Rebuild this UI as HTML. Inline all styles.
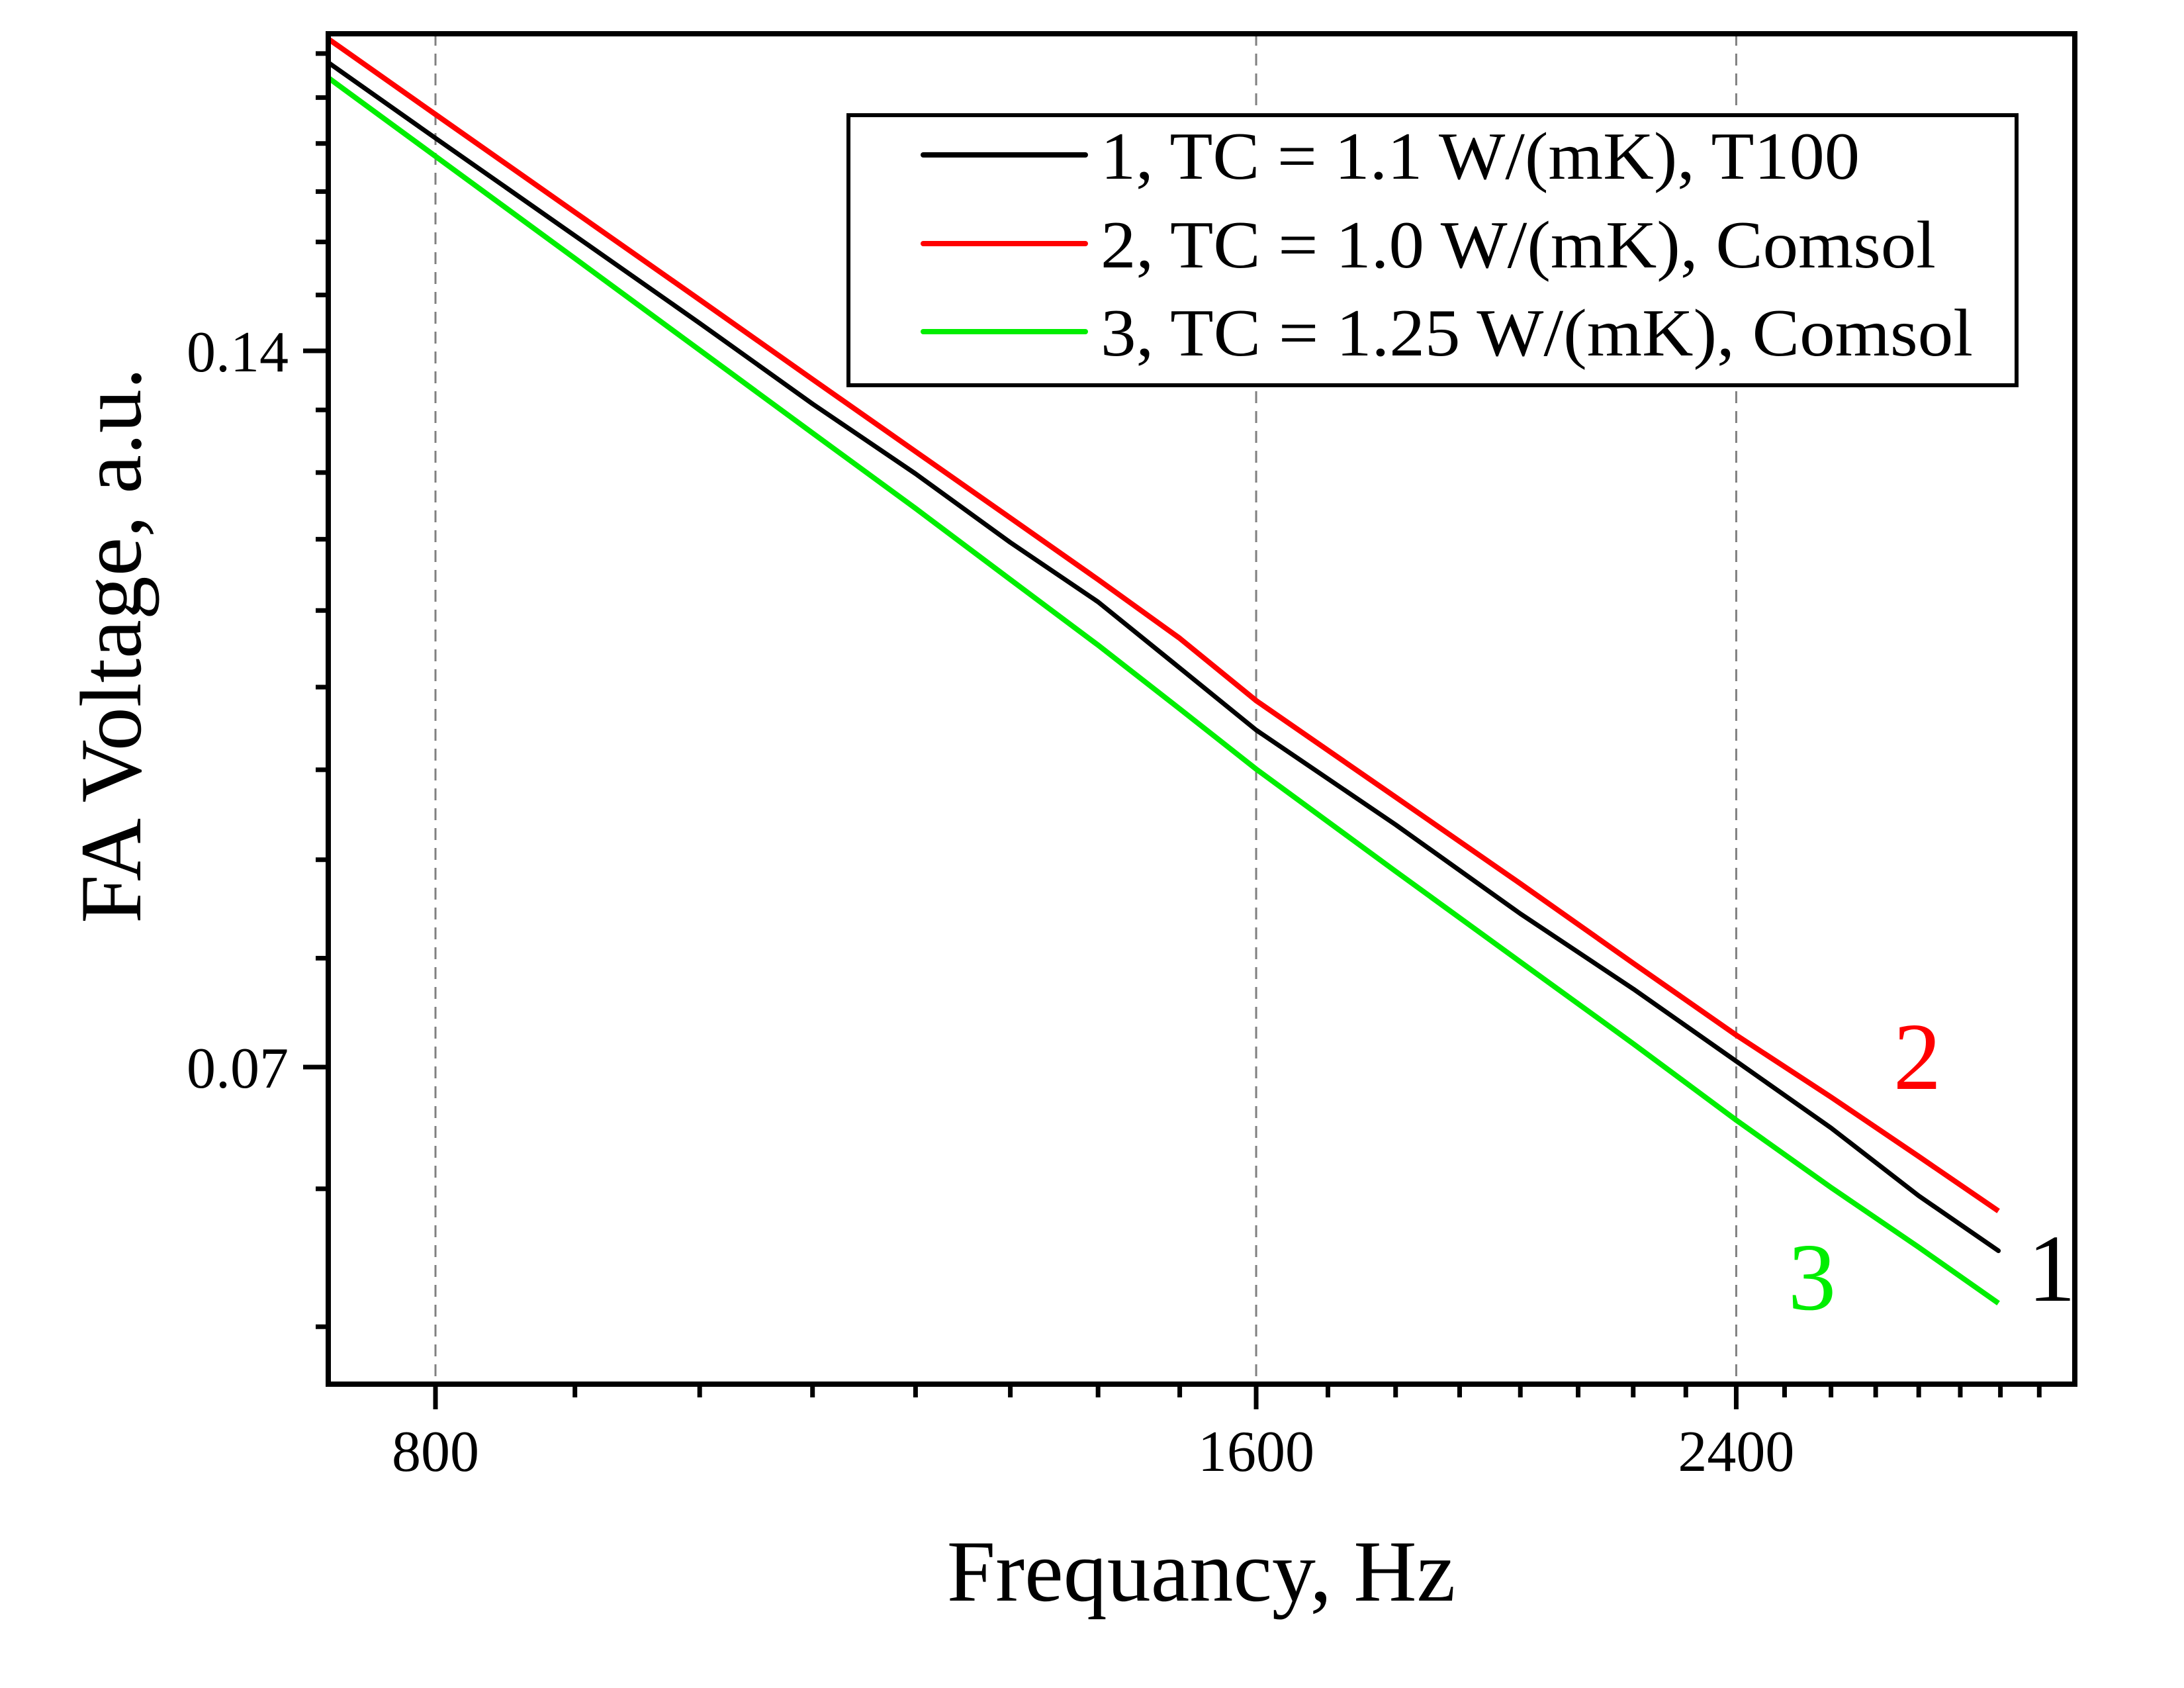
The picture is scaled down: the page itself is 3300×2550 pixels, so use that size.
<!DOCTYPE html>
<html><head><meta charset="utf-8"><style>
html,body{margin:0;padding:0;background:#fff;}
svg{display:block;}
text{font-family:"Liberation Serif",serif;fill:#000;}
</style></head><body>
<svg id="chart" width="3300" height="2550" viewBox="0 0 3300 2550" xmlns="http://www.w3.org/2000/svg">
<rect x="0" y="0" width="3300" height="2550" fill="#fff"/>
<g id="grid"></g>
<g id="series"></g>
<g id="axes"></g>
<text x="1815" y="2418" font-size="132" text-anchor="middle">Frequancy, Hz</text>
<text transform="translate(212,975) rotate(-90)" font-size="132" text-anchor="middle">FA Voltage, a.u.</text>
<text x="2897" y="1645" font-size="145" fill="#ff0000" style="fill:#ff0000" text-anchor="middle">2</text>
<text x="2738" y="1978" font-size="145" fill="#00ee00" style="fill:#00ee00" text-anchor="middle">3</text>
<text x="3100" y="1965" font-size="145" text-anchor="middle">1</text>
<g id="legend">
<rect x="1282" y="174" width="1765" height="408" fill="#fff" stroke="#000" stroke-width="6"/>
<line x1="1395" y1="234" x2="1640" y2="234" stroke="#000" stroke-width="8" stroke-linecap="round"/>
<line x1="1395" y1="368" x2="1640" y2="368" stroke="#ff0000" stroke-width="8" stroke-linecap="round"/>
<line x1="1395" y1="501" x2="1640" y2="501" stroke="#00ee00" stroke-width="8" stroke-linecap="round"/>
<text x="1663" y="270" font-size="102" textLength="1147" lengthAdjust="spacingAndGlyphs">1, TC = 1.1 W/(mK), T100</text>
<text x="1663" y="404" font-size="102" textLength="1262" lengthAdjust="spacingAndGlyphs">2, TC = 1.0 W/(mK), Comsol</text>
<text x="1663" y="537" font-size="102" textLength="1318" lengthAdjust="spacingAndGlyphs">3, TC = 1.25 W/(mK), Comsol</text>
</g>
</svg>
<script>
const freqs = [731, 800, 900, 1000, 1100, 1200, 1300, 1400, 1500, 1600, 1800, 2000, 2200, 2400, 2600, 2800, 2995];
const seriesT100 = [0.185, 0.172, 0.1565, 0.1438, 0.1330, 0.1243, 0.1163, 0.1098, 0.1030, 0.0970, 0.0885, 0.0812, 0.0755, 0.0704, 0.0660, 0.0618, 0.0586];
const seriesTC10 = [0.1893, 0.176, 0.1601, 0.1471, 0.1362, 0.1270, 0.1191, 0.1122, 0.1060, 0.0998, 0.0909, 0.0836, 0.0774, 0.0722, 0.0680, 0.0642, 0.0609];
const seriesTC125 = [0.1823, 0.169, 0.1531, 0.1401, 0.1293, 0.1202, 0.1122, 0.1053, 0.0990, 0.0934, 0.0846, 0.0775, 0.0716, 0.0665, 0.0623, 0.0588, 0.0557];
const xMajorTicks = [800, 1600, 2400];
const xMajorLabels = ["800", "1600", "2400"];
const xMinorTicks = [900,1000,1100,1200,1300,1400,1500,1700,1800,1900,2000,2100,2200,2300,2500,2600,2700,2800,2900,3000,3100];
const yTickStep = 0.07/9;
const yTickIdx = [7,8,9,10,11,12,13,14,15,16,17,18,19,20,21,22,23,24];
const yMajorTicks = [0.07, 0.14];
const yMajorLabels = ["0.07", "0.14"];

const NS = "http://www.w3.org/2000/svg";
const L = 496, R = 3135, T = 51, B = 2091;
const KX = 1789, KY = 1561;
function xs(f){ return 658 + KX*Math.log(f/800); }
function ys(v){ return 530 - KY*Math.log(v/0.14); }
function mk(tag, attrs, parent){
  const e = document.createElementNS(NS, tag);
  for (const k in attrs) e.setAttribute(k, attrs[k]);
  parent.appendChild(e); return e;
}
const grid = document.getElementById('grid');
const axes = document.getElementById('axes');
const ser = document.getElementById('series');

xMajorTicks.forEach((f,i)=>{
  const g = mk('line',{x1:xs(f),x2:xs(f),y1:T,y2:B,stroke:'#808080','stroke-width':3,'stroke-dasharray':'18,12'},grid);
  
  
  const t = mk('line',{x1:xs(f),x2:xs(f),y1:B,y2:B+38,stroke:'#000','stroke-width':7},axes);
  
  
  const lb = mk('text',{x:xs(f),y:2222,'font-size':88,'text-anchor':'middle'},axes);
  lb.textContent = xMajorLabels[i];
  
  
});
xMinorTicks.forEach(f=>{
  const t = mk('line',{x1:xs(f),x2:xs(f),y1:B,y2:B+20,stroke:'#000','stroke-width':7},axes);
  
  
});
yTickIdx.forEach(k=>{
  const v = k*yTickStep;
  const major = (k===9||k===18);
  const t = mk('line',{x1:major?458:477,x2:L,y1:ys(v),y2:ys(v),stroke:'#000','stroke-width':7},axes);
  
  
});
yMajorTicks.forEach((v,i)=>{
  const lb = mk('text',{x:436,y:ys(v)+31,'font-size':88,'text-anchor':'end'},axes);
  lb.textContent = yMajorLabels[i];
  
  
});
const frame = mk('rect',{x:L,y:T,width:R-L,height:B-T,fill:'none',stroke:'#000','stroke-width':8},axes);



function path(vals){
  return vals.map((v,i)=>(i?'L':'M')+xs(freqs[i]).toFixed(1)+','+ys(v).toFixed(1)).join(' ');
}
const pR = mk('path',{d:path(seriesTC10),fill:'none',stroke:'#ff0000','stroke-width':8,'stroke-linejoin':'round'},ser);


const pG = mk('path',{d:path(seriesTC125),fill:'none',stroke:'#00ee00','stroke-width':8,'stroke-linejoin':'round'},ser);


const pB = mk('path',{d:path(seriesT100),fill:'none',stroke:'#000','stroke-width':7,'stroke-linejoin':'round','stroke-linecap':'round'},ser);


</script>
</body></html>
